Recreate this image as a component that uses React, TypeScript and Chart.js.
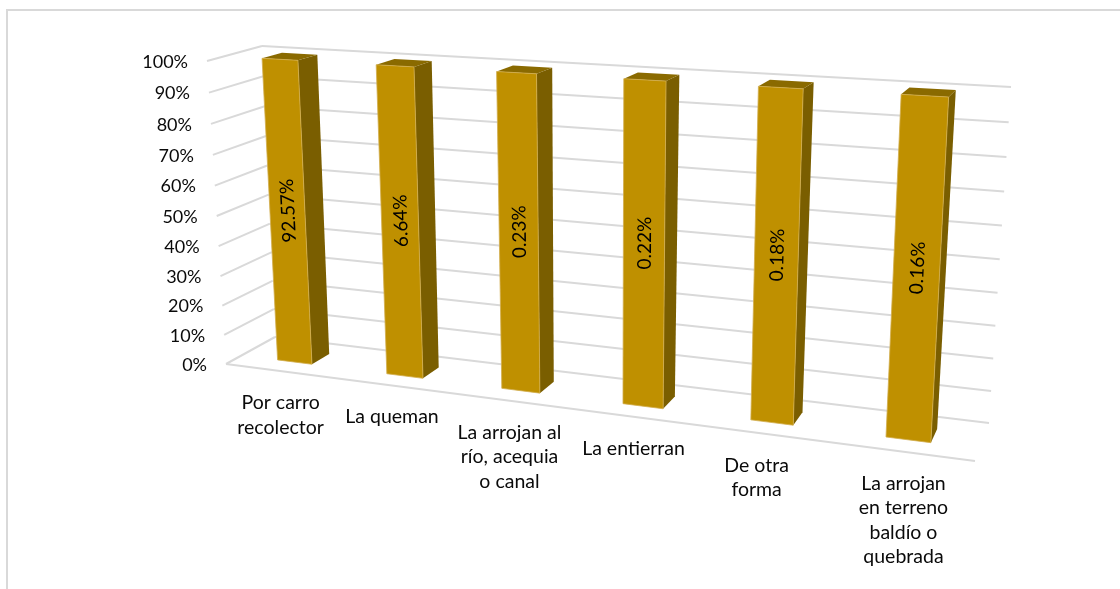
import React, { useEffect, useRef } from "react";
import { Chart, registerables } from "chart.js";

Chart.register(...registerables);

const categories: string[][] = [
  ["Por carro", "recolector"],
  ["La queman"],
  ["La arrojan al", "río, acequia", "o canal"],
  ["La entierran"],
  ["De otra", "forma"],
  ["La arrojan", "en terreno", "baldío o", "quebrada"],
];
const barHeights = [100, 100, 100, 100, 100, 100];
const shareLabels = [92.57, 6.64, 0.23, 0.22, 0.18, 0.16];
const yTicks = [0, 10, 20, 30, 40, 50, 60, 70, 80, 90, 100];

const FONT = "Lato, 'Open Sans', sans-serif";
const INK = "#0a0a0a";
const GRID = "#d9d9d9";

type P = [number, number];

// The 3D box of the picture: corners in order bottom-left, bottom-right, top-right, top-left.
const frontQuad: P[] = [[226, 364], [975, 461], [995, 106], [207, 61]];
const backQuad: P[] = [[275, 337], [989, 423], [1011, 87], [262, 46]];
const BAR_D0 = 0.32;
const BAR_D1 = 0.69;

function homography(q: P[]) {
  const [[x0, y0], [x1, y1], [x2, y2], [x3, y3]] = q;
  const dx1 = x1 - x2, dx2 = x3 - x2, sx = x0 - x1 + x2 - x3;
  const dy1 = y1 - y2, dy2 = y3 - y2, sy = y0 - y1 + y2 - y3;
  const den = dx1 * dy2 - dx2 * dy1;
  const g = (sx * dy2 - dx2 * sy) / den;
  const h = (dx1 * sy - sx * dy1) / den;
  const a = x1 - x0 + g * x1, b = x3 - x0 + h * x3;
  const d = y1 - y0 + g * y1, e = y3 - y0 + h * y3;
  return (u: number, v: number): P => {
    const w = g * u + h * v + 1;
    return [(a * u + b * v + x0) / w, (d * u + e * v + y0) / w];
  };
}
const front = homography(frontQuad);
const back = homography(backQuad);
const project = (u: number, v: number, depth: number): P => {
  const f = front(u, v);
  const b = back(u, v);
  return [f[0] + (b[0] - f[0]) * depth, f[1] + (b[1] - f[1]) * depth];
};

function poly(ctx: CanvasRenderingContext2D, pts: P[], fill: string, stroke?: string) {
  ctx.beginPath();
  pts.forEach((p, i) => (i ? ctx.lineTo(p[0], p[1]) : ctx.moveTo(p[0], p[1])));
  ctx.closePath();
  ctx.fillStyle = fill;
  ctx.fill();
  if (stroke) {
    ctx.strokeStyle = stroke;
    ctx.lineWidth = 0.8;
    ctx.stroke();
  }
}

const perspectivePlugin = {
  id: "perspective",
  beforeDatasetsDraw(chart: any) {
    const { ctx, chartArea: area, scales } = chart;
    const vOf = (val: number) => (area.bottom - scales.y.getPixelForValue(val)) / (area.bottom - area.top);
    ctx.save();
    ctx.strokeStyle = GRID;
    ctx.lineWidth = 2;
    const line = (a: P, b: P) => {
      ctx.beginPath();
      ctx.moveTo(a[0], a[1]);
      ctx.lineTo(b[0], b[1]);
      ctx.stroke();
    };
    scales.y.ticks.forEach((t: any) => {
      const v = vOf(t.value);
      line(project(0, v, 0), project(0, v, 1));
      line(project(0, v, 1), project(1, v, 1));
    });
    line(project(0, 0, 0), project(1, 0, 0));

    // y tick labels follow the slanted front edge of the left wall
    ctx.fillStyle = INK;
    ctx.font = `18px ${FONT}`;
    ctx.textAlign = "right";
    ctx.textBaseline = "middle";
    scales.y.ticks.forEach((t: any) => {
      const p = project(0, vOf(t.value), 0);
      ctx.fillText(t.label, p[0] - 19, p[1] + 1);
    });

    // x tick labels hang under the front floor edge
    ctx.font = `19.5px ${FONT}`;
    ctx.textAlign = "center";
    ctx.textBaseline = "top";
    categories.forEach((lines, i) => {
      const u = (scales.x.getPixelForValue(i) - area.left) / (area.right - area.left);
      const p = project(u, 0, 0);
      const nudge = i === 4 ? -8 : 0;
      lines.forEach((s, k) => ctx.fillText(s, p[0] + 1 + nudge, p[1] + 22 + k * 24.6));
    });
    ctx.restore();
  },
  beforeDatasetDraw(chart: any, args: any) {
    const { ctx, chartArea: area } = chart;
    const W = area.right - area.left;
    const H = area.bottom - area.top;
    args.meta.data.forEach((bar: any, i: number) => {
      const u0 = (bar.x - bar.width / 2 - area.left) / W;
      const u1 = (bar.x + bar.width / 2 - area.left) / W;
      const vTop = (area.bottom - bar.y) / H;
      const vBase = (area.bottom - bar.base) / H;
      const p = (u: number, v: number, d: number) => project(u, v, d);
      ctx.save();
      poly(ctx, [p(u1, vBase, BAR_D0), p(u1, vBase, BAR_D1), p(u1, vTop, BAR_D1), p(u1, vTop, BAR_D0)], "#7a5e00");
      poly(ctx, [p(u0, vTop, BAR_D0), p(u1, vTop, BAR_D0), p(u1, vTop, BAR_D1), p(u0, vTop, BAR_D1)], "#8a6a00");
      poly(ctx, [p(u0, vBase, BAR_D0), p(u1, vBase, BAR_D0), p(u1, vTop, BAR_D0), p(u0, vTop, BAR_D0)], "#bf9000", "#d2ad4e");

      const bottomMid = p((u0 + u1) / 2, vBase, BAR_D0);
      const topMid = p((u0 + u1) / 2, vTop, BAR_D0);
      const cx = (bottomMid[0] + topMid[0]) / 2;
      const cy = (bottomMid[1] + topMid[1]) / 2;
      ctx.translate(cx, cy);
      ctx.rotate(Math.atan2(topMid[1] - bottomMid[1], topMid[0] - bottomMid[0]));
      ctx.fillStyle = "#000000";
      ctx.font = `19px ${FONT}`;
      ctx.textAlign = "center";
      ctx.textBaseline = "middle";
      ctx.fillText(`${shareLabels[i].toFixed(2)}%`, 0, 1);
      ctx.restore();
    });
    return false;
  },
};

export default function App() {
  const ref = useRef<HTMLCanvasElement>(null);
  useEffect(() => {
    const chart = new Chart(ref.current as HTMLCanvasElement, {
      type: "bar",
      data: {
        labels: categories.map((c) => c.join(" ")),
        datasets: [
          {
            label: "Eliminación de la basura",
            data: barHeights,
            backgroundColor: "#bf9000",
            categoryPercentage: 1,
            barPercentage: 0.32,
          },
        ],
      },
      options: {
        responsive: false,
        animation: false,
        layout: { padding: { left: 207, right: 125, top: 61, bottom: 225 } },
        plugins: { legend: { display: false }, title: { display: false }, tooltip: { enabled: false } },
        scales: {
          x: { grid: { display: false }, border: { display: false }, ticks: { display: false } },
          y: {
            min: 0,
            max: 100,
            afterBuildTicks: (s: any) => {
              s.ticks = yTicks.map((value) => ({ value }));
            },
            ticks: { display: false, callback: (v: any) => `${v}%` },
            grid: { display: false },
            border: { display: false },
          },
        },
      },
      plugins: [perspectivePlugin],
    } as any);
    return () => chart.destroy();
  }, []);
  return (
    <div style={{ position: "absolute", left: 0, top: 0, width: 1120, height: 589, overflow: "hidden", background: "#fff" }}>
      <div
        style={{
          position: "absolute",
          left: 6,
          top: 9,
          width: 1114,
          height: 580,
          borderTop: `2px solid ${GRID}`,
          borderLeft: `2px solid ${GRID}`,
          boxSizing: "border-box",
        }}
      />
      <canvas ref={ref} width={1120} height={589} style={{ position: "absolute", left: 0, top: 0, display: "block" }} />
    </div>
  );
}
